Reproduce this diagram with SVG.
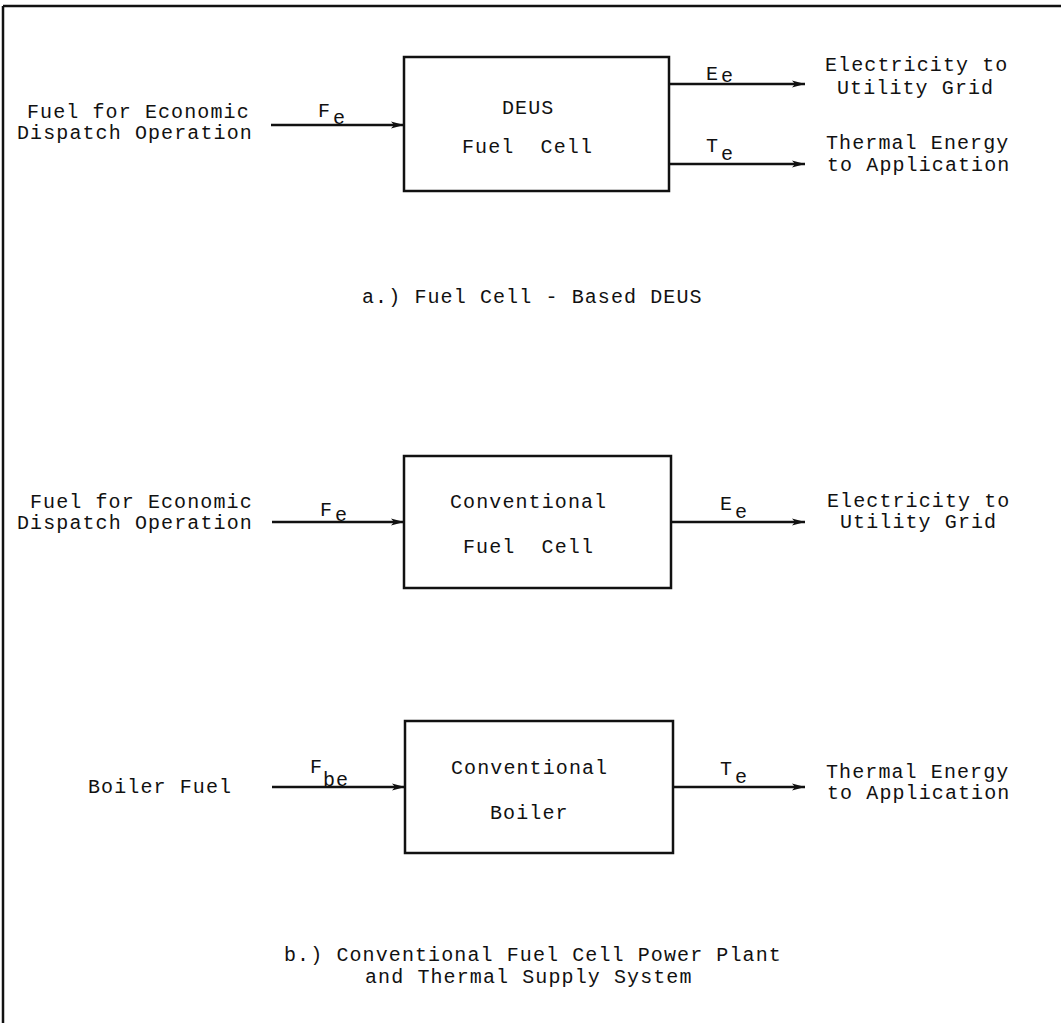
<svg xmlns="http://www.w3.org/2000/svg" width="1061" height="1023" viewBox="0 0 1061 1023">
<style>
text{font-family:"Liberation Mono","DejaVu Sans Mono",monospace;font-size:20px;letter-spacing:1.1px;fill:#111}
.pre{white-space:pre}
.box{fill:none;stroke:#111;stroke-width:2.5}
.ln{stroke:#111;stroke-width:2.5;fill:none}
.arr{stroke:#111;stroke-width:2.5;fill:none;marker-end:url(#ah)}
</style>
<defs>
<marker id="ah" markerUnits="userSpaceOnUse" markerWidth="14" markerHeight="8" refX="13" refY="4" orient="auto">
<path d="M0,0.5 L13,4 L0,7.5 L3,4 z" fill="#111"/>
</marker>
</defs>
<g id="frame">
<line class="ln" x1="3" y1="6" x2="1061" y2="6"/>
<line class="ln" x1="3" y1="6" x2="3" y2="1023"/>
</g>
<g id="connectors">
<line class="arr" x1="271" y1="125" x2="404" y2="125"/>
<line class="arr" x1="669" y1="84" x2="805" y2="84"/>
<line class="arr" x1="669" y1="164" x2="805" y2="164"/>
<line class="arr" x1="272" y1="522" x2="404" y2="522"/>
<line class="arr" x1="671" y1="522" x2="805" y2="522"/>
<line class="arr" x1="272" y1="787" x2="405" y2="787"/>
<line class="arr" x1="673" y1="787" x2="805" y2="787"/>
</g>
<g id="labels">
<text x="318" y="117">F<tspan x="333" y="124">e</tspan></text>
<text x="706" y="80">E<tspan x="721" y="82">e</tspan></text>
<text x="706" y="152">T<tspan x="721" y="160">e</tspan></text>
<text x="320" y="516">F<tspan x="335" y="521">e</tspan></text>
<text x="720" y="510">E<tspan x="735" y="518">e</tspan></text>
<text x="310" y="773">F<tspan x="323" y="786">be</tspan></text>
<text x="720" y="775">T<tspan x="735" y="783">e</tspan></text>
</g>
<g id="input-a">
<text x="27" y="118">Fuel for Economic</text>
<text x="17" y="139">Dispatch Operation</text>
</g>
<g id="deus-fuel-cell">
<rect class="box" x="404" y="57" width="265" height="134"/>
<text x="502" y="114">DEUS</text>
<text class="pre" x="462" y="153">Fuel  Cell</text>
</g>
<g id="out-a-elec">
<text x="825" y="71">Electricity to</text>
<text x="837" y="94">Utility Grid</text>
</g>
<g id="out-a-thermal">
<text x="826" y="149">Thermal Energy</text>
<text x="827" y="171">to Application</text>
</g>
<g id="caption-a">
<text x="362" y="303">a.) Fuel Cell - Based DEUS</text>
</g>
<g id="input-b">
<text x="30" y="508">Fuel for Economic</text>
<text x="17" y="529">Dispatch Operation</text>
</g>
<g id="conv-fuel-cell">
<rect class="box" x="404" y="456" width="267" height="132"/>
<text x="450" y="508">Conventional</text>
<text class="pre" x="463" y="553">Fuel  Cell</text>
</g>
<g id="out-b-elec">
<text x="827" y="507">Electricity to</text>
<text x="840" y="528">Utility Grid</text>
</g>
<g id="boiler-fuel">
<text x="88" y="793">Boiler Fuel</text>
</g>
<g id="conv-boiler">
<rect class="box" x="405" y="721" width="268" height="132"/>
<text x="451" y="774">Conventional</text>
<text x="490" y="819">Boiler</text>
</g>
<g id="out-b-thermal">
<text x="826" y="778">Thermal Energy</text>
<text x="827" y="799">to Application</text>
</g>
<g id="caption-b">
<text x="284" y="961">b.) Conventional Fuel Cell Power Plant</text>
<text x="365" y="983">and Thermal Supply System</text>
</g>
</svg>
